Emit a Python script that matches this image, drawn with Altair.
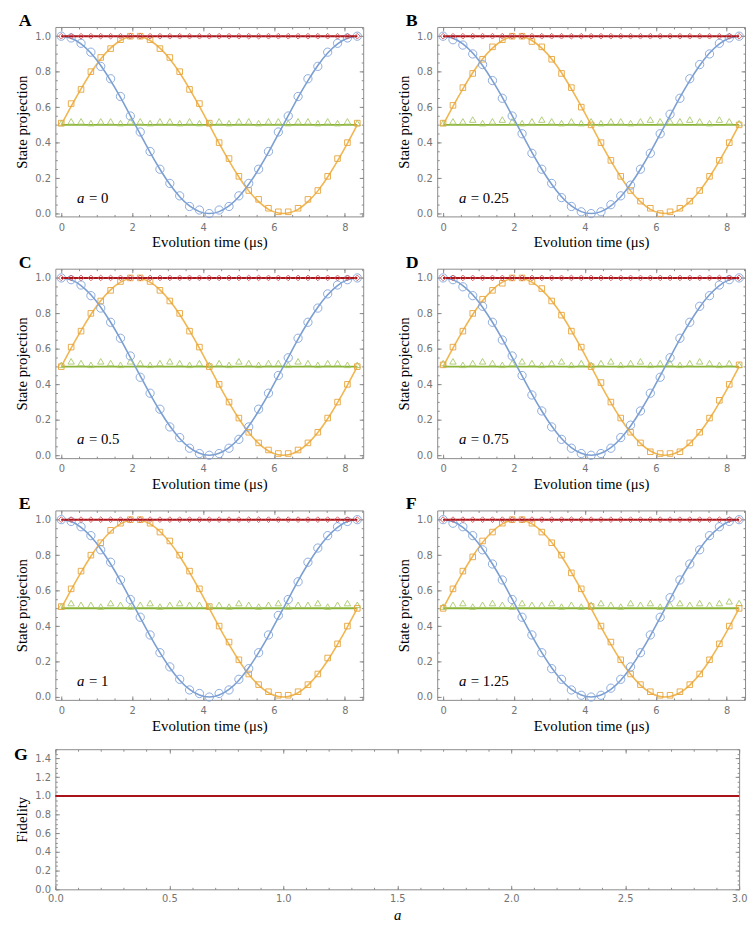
import altair as alt
import pandas as pd

# ---------------- data ----------------
times = [0.0, 0.278, 0.557, 0.835, 1.113, 1.392, 1.67, 1.948, 2.227, 2.505, 2.783,
         3.062, 3.34, 3.618, 3.897, 4.175, 4.453, 4.732, 5.01, 5.288, 5.567, 5.845,
         6.123, 6.402, 6.68, 6.958, 7.237, 7.515, 7.793, 8.072, 8.35]

blue_fit = [1.000, 0.989, 0.957, 0.905, 0.835, 0.750, 0.655, 0.552, 0.448, 0.345, 0.250,
            0.165, 0.095, 0.043, 0.011, 0.000, 0.011, 0.043, 0.095, 0.165, 0.250, 0.345,
            0.448, 0.552, 0.655, 0.750, 0.835, 0.905, 0.957, 0.989, 1.000]
orange_fit = [0.500, 0.604, 0.703, 0.794, 0.872, 0.933, 0.976, 0.997, 0.997, 0.976, 0.933,
              0.872, 0.794, 0.703, 0.604, 0.500, 0.396, 0.297, 0.206, 0.128, 0.067, 0.024,
              0.003, 0.003, 0.024, 0.067, 0.128, 0.206, 0.297, 0.396, 0.500]
green_fit = [0.5, 0.5, 0.5, 0.5, 0.5, 0.5, 0.5, 0.5, 0.5, 0.5, 0.5, 0.5, 0.5, 0.5, 0.5, 0.5,
             0.5, 0.5, 0.5, 0.5, 0.5, 0.5, 0.5, 0.5, 0.5, 0.5, 0.5, 0.5, 0.5, 0.5, 0.5]
red_fit = [1.0, 1.0, 1.0, 1.0, 1.0, 1.0, 1.0, 1.0, 1.0, 1.0, 1.0, 1.0, 1.0, 1.0, 1.0, 1.0,
           1.0, 1.0, 1.0, 1.0, 1.0, 1.0, 1.0, 1.0, 1.0, 1.0, 1.0, 1.0, 1.0, 1.0, 1.0]

panel_letters = ["A", "B", "C", "D", "E", "F"]
a_values = ["0", "0.25", "0.5", "0.75", "1", "1.25"]

blue_pts = [
    [1.00, 0.99, 0.96, 0.91, 0.83, 0.76, 0.66, 0.55, 0.46, 0.35, 0.25, 0.17, 0.10, 0.04, 0.02, 0.00,
     0.02, 0.04, 0.10, 0.17, 0.25, 0.35, 0.46, 0.55, 0.66, 0.76, 0.83, 0.91, 0.96, 0.99, 1.00],
    [1.00, 0.98, 0.95, 0.90, 0.84, 0.75, 0.65, 0.55, 0.45, 0.34, 0.25, 0.17, 0.09, 0.04, 0.01, 0.00,
     0.01, 0.05, 0.10, 0.16, 0.25, 0.34, 0.45, 0.56, 0.65, 0.76, 0.84, 0.90, 0.96, 0.99, 1.00],
    [1.00, 0.99, 0.96, 0.90, 0.83, 0.75, 0.66, 0.56, 0.44, 0.35, 0.26, 0.16, 0.10, 0.04, 0.01, 0.00,
     0.01, 0.04, 0.09, 0.16, 0.26, 0.35, 0.45, 0.55, 0.66, 0.75, 0.83, 0.91, 0.96, 0.99, 1.00],
    [1.00, 0.99, 0.95, 0.90, 0.84, 0.75, 0.65, 0.56, 0.45, 0.34, 0.25, 0.16, 0.09, 0.04, 0.01, 0.00,
     0.01, 0.04, 0.10, 0.17, 0.25, 0.35, 0.44, 0.55, 0.66, 0.75, 0.84, 0.90, 0.96, 0.99, 1.00],
    [1.00, 0.99, 0.96, 0.91, 0.83, 0.76, 0.66, 0.55, 0.45, 0.35, 0.25, 0.17, 0.10, 0.04, 0.02, 0.00,
     0.02, 0.04, 0.10, 0.16, 0.25, 0.35, 0.46, 0.55, 0.65, 0.76, 0.84, 0.91, 0.96, 0.99, 1.00],
    [1.00, 0.98, 0.96, 0.91, 0.83, 0.75, 0.66, 0.55, 0.45, 0.35, 0.25, 0.16, 0.10, 0.04, 0.01, 0.00,
     0.01, 0.05, 0.10, 0.17, 0.25, 0.35, 0.45, 0.56, 0.66, 0.75, 0.83, 0.91, 0.96, 0.99, 1.00],
]
orange_pts = [
    [0.51, 0.62, 0.70, 0.80, 0.88, 0.93, 0.98, 1.00, 1.00, 0.98, 0.93, 0.88, 0.80, 0.70, 0.62, 0.51,
     0.40, 0.31, 0.21, 0.13, 0.08, 0.03, 0.01, 0.01, 0.03, 0.08, 0.13, 0.21, 0.31, 0.40, 0.51],
    [0.51, 0.61, 0.71, 0.79, 0.87, 0.94, 0.98, 1.00, 1.00, 0.97, 0.94, 0.87, 0.79, 0.71, 0.60, 0.50,
     0.40, 0.30, 0.21, 0.13, 0.07, 0.03, 0.00, 0.01, 0.03, 0.07, 0.13, 0.21, 0.30, 0.40, 0.50],
    [0.50, 0.61, 0.70, 0.80, 0.87, 0.93, 0.98, 1.00, 1.00, 0.98, 0.93, 0.87, 0.80, 0.70, 0.61, 0.50,
     0.40, 0.30, 0.21, 0.13, 0.07, 0.03, 0.01, 0.01, 0.03, 0.07, 0.13, 0.21, 0.30, 0.40, 0.50],
    [0.51, 0.61, 0.70, 0.80, 0.88, 0.93, 0.97, 1.00, 1.00, 0.98, 0.94, 0.87, 0.79, 0.70, 0.61, 0.50,
     0.41, 0.30, 0.21, 0.13, 0.07, 0.02, 0.01, 0.01, 0.02, 0.07, 0.13, 0.21, 0.31, 0.40, 0.51],
    [0.51, 0.61, 0.71, 0.80, 0.87, 0.94, 0.98, 1.00, 1.00, 0.98, 0.93, 0.88, 0.80, 0.71, 0.61, 0.51,
     0.40, 0.31, 0.21, 0.13, 0.07, 0.03, 0.01, 0.01, 0.03, 0.07, 0.13, 0.22, 0.30, 0.40, 0.50],
    [0.50, 0.61, 0.71, 0.79, 0.88, 0.93, 0.98, 1.00, 1.00, 0.98, 0.93, 0.87, 0.80, 0.70, 0.61, 0.51,
     0.40, 0.31, 0.21, 0.13, 0.07, 0.03, 0.01, 0.01, 0.03, 0.07, 0.13, 0.21, 0.30, 0.40, 0.50],
]
green_pts = [
    [0.51, 0.52, 0.52, 0.51, 0.52, 0.52, 0.51, 0.52, 0.52, 0.51, 0.52, 0.52, 0.51, 0.52, 0.51, 0.51,
     0.52, 0.51, 0.52, 0.52, 0.51, 0.52, 0.52, 0.51, 0.52, 0.52, 0.51, 0.52, 0.51, 0.52, 0.51],
    [0.51, 0.52, 0.52, 0.53, 0.51, 0.52, 0.53, 0.52, 0.51, 0.52, 0.53, 0.52, 0.51, 0.52, 0.51, 0.52,
     0.51, 0.52, 0.52, 0.51, 0.52, 0.53, 0.52, 0.52, 0.52, 0.53, 0.52, 0.51, 0.53, 0.52, 0.51],
    [0.51, 0.53, 0.52, 0.51, 0.53, 0.52, 0.51, 0.53, 0.52, 0.51, 0.52, 0.53, 0.52, 0.51, 0.52, 0.51,
     0.52, 0.51, 0.53, 0.52, 0.51, 0.52, 0.52, 0.51, 0.53, 0.52, 0.51, 0.52, 0.52, 0.51, 0.51],
    [0.52, 0.53, 0.51, 0.52, 0.53, 0.52, 0.51, 0.52, 0.53, 0.52, 0.51, 0.52, 0.53, 0.51, 0.52, 0.51,
     0.52, 0.53, 0.51, 0.52, 0.53, 0.51, 0.52, 0.52, 0.51, 0.52, 0.53, 0.52, 0.51, 0.52, 0.51],
    [0.51, 0.53, 0.52, 0.52, 0.51, 0.53, 0.52, 0.51, 0.52, 0.53, 0.51, 0.52, 0.53, 0.52, 0.52, 0.51,
     0.52, 0.51, 0.53, 0.52, 0.51, 0.52, 0.53, 0.51, 0.52, 0.52, 0.53, 0.51, 0.52, 0.53, 0.52],
    [0.51, 0.52, 0.53, 0.51, 0.52, 0.53, 0.52, 0.51, 0.53, 0.52, 0.52, 0.53, 0.51, 0.52, 0.51, 0.52,
     0.53, 0.52, 0.51, 0.53, 0.52, 0.53, 0.51, 0.52, 0.53, 0.52, 0.53, 0.52, 0.53, 0.54, 0.53],
]
red_pts = [1.0, 1.0, 1.0, 1.0, 1.0, 1.0, 1.0, 1.0, 1.0, 1.0, 1.0, 1.0, 1.0, 1.0, 1.0, 1.0,
           1.0, 1.0, 1.0, 1.0, 1.0, 1.0, 1.0, 1.0, 1.0, 1.0, 1.0, 1.0, 1.0, 1.0, 1.0]

fid_a = [0.0, 0.25, 0.5, 0.75, 1.0, 1.25, 1.5, 1.75, 2.0, 2.25, 2.5, 2.75, 3.0]
fid_val = [1.0, 1.0, 1.0, 1.0, 1.0, 1.0, 1.0, 1.0, 1.0, 1.0, 1.0, 1.0, 1.0]

# tick values
x_major = [0, 2, 4, 6, 8]
x_minor = [0, 0.5, 1, 1.5, 2, 2.5, 3, 3.5, 4, 4.5, 5, 5.5, 6, 6.5, 7, 7.5, 8, 8.5]
y_major = [0.0, 0.2, 0.4, 0.6, 0.8, 1.0]
y_minor = [round(0.05 * i, 2) for i in range(21)]
gx_major = [0.0, 0.5, 1.0, 1.5, 2.0, 2.5, 3.0]
gx_minor = [round(0.1 * i, 1) for i in range(31)]
gy_major = [0.0, 0.2, 0.4, 0.6, 0.8, 1.0, 1.2, 1.4]
gy_minor = [round(0.05 * i, 2) for i in range(31)]

# ---------------- styles ----------------
BLUE_L, BLUE_P = "#7c9fd2", "#7fa3da"
ORANGE_L, ORANGE_P = "#f1b650", "#e6a23a"
GREEN_L, GREEN_P = "#8ab438", "#a8c86a"
RED_L, RED_P = "#a8141a", "#d4575c"
FRAME = "#8a8a8a"
SERIF = "Liberation Serif"
LABEL_C = "#747474"

W, H = 312, 192
XS = alt.Scale(domain=[-0.167, 8.517], nice=False, zero=False)
YS = alt.Scale(domain=[-0.016, 1.052], nice=False, zero=False)


def tick_axis(orient, values, size):
    return alt.Axis(orient=orient, values=values, labels=False, domain=False, grid=False,
                    tickSize=size, offset=-size, title=None, tickColor=FRAME, tickWidth=1)


def tick_layers(df, xf, yf, xs, ys, xmaj, xmin, ymaj, ymin):
    out = []
    for xo, yo, xv, yv, s in [("bottom", "left", xmaj, ymaj, 4), ("bottom", "left", xmin, ymin, 2),
                              ("top", "right", xmaj, ymaj, 4), ("top", "right", xmin, ymin, 2)]:
        out.append(alt.Chart(df).mark_point(opacity=0, size=1).encode(
            x=alt.X(xf, type="quantitative", scale=xs, axis=tick_axis(xo, xv, s)),
            y=alt.Y(yf, type="quantitative", scale=ys, axis=tick_axis(yo, yv, s))))
    return out


def anchor(df, px, py):
    # invisible layout anchor that fixes the panel's outer bounds
    return alt.Chart(df).mark_point(opacity=0, size=1, filled=True).encode(
        x=alt.value(px), y=alt.value(py))


def panel(i):
    left_col = (i % 2 == 0)
    fit = pd.DataFrame({"t": times, "blue": blue_fit, "orange": orange_fit,
                        "green": green_fit, "red": red_fit})
    pts = pd.DataFrame({"t": times, "blue": blue_pts[i], "orange": orange_pts[i],
                        "green": green_pts[i], "red": red_pts})
    main_x = alt.Axis(orient="bottom", values=x_major, ticks=False, tickSize=0, domain=False,
                      grid=False, labelPadding=6, labelFlush=False, labelOverlap=False,
                      labelColor=LABEL_C, title="Evolution time (μs)", titlePadding=3,
                      titleFont=SERIF, titleFontSize=15, titleFontWeight="normal")
    main_y = alt.Axis(orient="left", values=y_major, format=".1f", ticks=False, tickSize=0,
                      domain=False, grid=False, labelPadding=5, labelFlush=False,
                      labelOverlap=False, labelColor=LABEL_C, title="State projection",
                      titlePadding=5, titleFont=SERIF, titleFontSize=15,
                      titleFontWeight="normal")
    base_f = alt.Chart(fit)
    base_p = alt.Chart(pts)
    layers = [
        base_f.mark_line(color=GREEN_L, strokeWidth=2).encode(
            x=alt.X("t:Q", scale=XS, axis=main_x), y=alt.Y("green:Q", scale=YS, axis=main_y)),
        base_f.mark_line(color=ORANGE_L, strokeWidth=1.6, interpolate="natural").encode(
            x=alt.X("t:Q", scale=XS, axis=None), y=alt.Y("orange:Q", scale=YS, axis=None)),
        base_f.mark_line(color=BLUE_L, strokeWidth=1.6, interpolate="natural").encode(
            x=alt.X("t:Q", scale=XS, axis=None), y=alt.Y("blue:Q", scale=YS, axis=None)),
        base_p.mark_point(shape="triangle-up", filled=False, size=42, strokeWidth=0.9,
                          color=GREEN_P, opacity=1).encode(
            x=alt.X("t:Q", scale=XS, axis=None), y=alt.Y("green:Q", scale=YS, axis=None)),
        base_p.mark_point(shape="square", filled=False, size=32, strokeWidth=0.9,
                          color=ORANGE_P, opacity=1).encode(
            x=alt.X("t:Q", scale=XS, axis=None), y=alt.Y("orange:Q", scale=YS, axis=None)),
        base_p.mark_point(shape="circle", filled=False, size=70, strokeWidth=0.9,
                          color=BLUE_P, opacity=1).encode(
            x=alt.X("t:Q", scale=XS, axis=None), y=alt.Y("blue:Q", scale=YS, axis=None)),
        base_f.mark_line(color=RED_L, strokeWidth=2).encode(
            x=alt.X("t:Q", scale=XS, axis=None), y=alt.Y("red:Q", scale=YS, axis=None)),
        base_p.mark_point(shape="diamond", filled=False, size=34, strokeWidth=0.9,
                          color=RED_P, opacity=1).encode(
            x=alt.X("t:Q", scale=XS, axis=None), y=alt.Y("red:Q", scale=YS, axis=None)),
    ]
    layers += tick_layers(fit, "t", "blue", XS, YS, x_major, x_minor, y_major, y_minor)
    txt = pd.DataFrame({"letter": [panel_letters[i]], "a": ["a"], "rest": ["= " + a_values[i]]})
    layers += [
        alt.Chart(txt).mark_text(font=SERIF, fontSize=18, fontWeight="bold", align="left",
                                 baseline="alphabetic", color="black").encode(
            x=alt.value(-37 if left_col else -32), y=alt.value(-1), text="letter:N"),
        alt.Chart(txt).mark_text(font=SERIF, fontSize=15, fontStyle="italic", align="left",
                                 baseline="alphabetic", color="black").encode(
            x=alt.value(22), y=alt.value(178), text="a:N"),
        alt.Chart(txt).mark_text(font=SERIF, fontSize=15, align="left",
                                 baseline="alphabetic", color="black").encode(
            x=alt.value(34), y=alt.value(178), text="rest:N"),
    ]
    if left_col:
        layers.append(anchor(txt, -41, H / 2))
    if i >= 4:
        layers.append(anchor(txt, W / 2, H + 40))
    return alt.layer(*layers).resolve_axis(x="independent", y="independent").properties(
        width=W, height=H)


def fidelity_panel():
    GW, GH = 693, 142
    GXS = alt.Scale(domain=[0, 3], nice=False, zero=False)
    GYS = alt.Scale(domain=[0, 1.5], nice=False, zero=False)
    df = pd.DataFrame({"a": fid_a, "f": fid_val})
    main_x = alt.Axis(orient="bottom", values=gx_major, format=".1f", ticks=False, tickSize=0,
                      domain=False, grid=False, labelPadding=4, labelFlush=False,
                      labelOverlap=False, labelColor=LABEL_C, title="a",
                      titleFontStyle="italic", titlePadding=5, titleFont=SERIF,
                      titleFontSize=15, titleFontWeight="normal")
    main_y = alt.Axis(orient="left", values=gy_major, format=".1f", ticks=False, tickSize=0,
                      domain=False, grid=False, labelPadding=5, labelFlush=False,
                      labelOverlap=False, labelColor=LABEL_C, title="Fidelity",
                      titlePadding=5, titleFont=SERIF, titleFontSize=15,
                      titleFontWeight="normal")
    layers = [
        alt.Chart(df).mark_line(color=RED_L, strokeWidth=2).encode(
            x=alt.X("a:Q", scale=GXS, axis=main_x), y=alt.Y("f:Q", scale=GYS, axis=main_y)),
    ]
    layers += tick_layers(df, "a", "f", GXS, GYS, gx_major, gx_minor, gy_major, gy_minor)
    txt = pd.DataFrame({"letter": ["G"]})
    layers.append(alt.Chart(txt).mark_text(font=SERIF, fontSize=18, fontWeight="bold",
                                           align="left", baseline="alphabetic",
                                           color="black").encode(
        x=alt.value(-42), y=alt.value(11), text="letter:N"))
    layers.append(anchor(txt, -46.5, GH / 2))
    layers.append(anchor(txt, GW / 2, -6))
    return alt.layer(*layers).resolve_axis(x="independent", y="independent").properties(
        width=GW, height=GH)


panels = [panel(i) for i in range(6)]
grid = alt.concat(*panels, columns=2, spacing={"row": 53, "column": 75}, bounds="flush")

chart = alt.vconcat(grid, fidelity_panel(), spacing=2).properties(
    padding={"left": 0, "top": -3, "right": 0, "bottom": 0}
).configure_view(stroke=FRAME, strokeWidth=1).configure_axis(
    labelFont="DejaVu Sans", labelFontSize=10, labelColor=LABEL_C,
    titleFont=SERIF, titleFontSize=15, titleFontWeight="normal", titleColor="black"
)

chart.save("out.html", embed_options={"renderer": "svg", "actions": False})
